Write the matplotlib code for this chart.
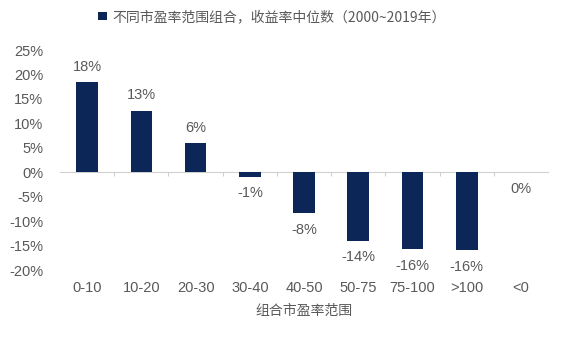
import matplotlib
matplotlib.use("Agg")
import matplotlib.pyplot as plt

categories = ["0-10", "10-20", "20-30", "30-40", "40-50", "50-75", "75-100", ">100", "<0"]
values = [18.4, 12.6, 5.9, -0.9, -8.4, -14.0, -15.8, -16.0, -0.05]
labels = ["18%", "13%", "6%", "-1%", "-8%", "-14%", "-16%", "-16%", "0%"]
yticks = [-20, -15, -10, -5, 0, 5, 10, 15, 20, 25]
legend_label = "不同市盈率范围组合，收益率中位数（2000~2019年）"
xlabel = "组合市盈率范围"

bar_color = "#0c2757"
text_color = "#595959"
latin = "Liberation Sans"
cjk = ["Noto Sans CJK SC", "DejaVu Sans"]

fig = plt.figure(figsize=(5.61, 3.39), dpi=100)
ax = fig.add_axes([0.107, 0.2035, 0.870, 0.649])

x = list(range(len(categories)))
bars = ax.bar(x, values, width=0.4, color=bar_color, label=legend_label, zorder=3)

ax.set_xlim(-0.5, len(categories) - 0.5)
ax.set_ylim(-20, 25)
ax.set_yticks(yticks)
ax.set_yticklabels([f"{t}%" for t in yticks], family=latin, fontsize=10.5, color=text_color)
ax.tick_params(axis="y", length=0, pad=12)

for s in ["top", "right", "left"]:
    ax.spines[s].set_visible(False)
ax.spines["bottom"].set_position(("data", 0))
ax.spines["bottom"].set_color("#d0d0d0")
ax.set_xticks([i + 0.5 for i in x[:-1]])
ax.set_xticklabels([])
ax.tick_params(axis="x", length=3, color="#d0d0d0", direction="out")

sec = ax.secondary_xaxis("bottom")
sec.set_xticks(x)
sec.set_xticklabels(categories, family=latin, fontsize=10.5, color=text_color)
sec.tick_params(length=0, pad=8)
sec.spines["bottom"].set_visible(False)
sec.set_xlabel(xlabel, family=cjk, fontsize=10, color=text_color, labelpad=6)

for b, v, lab in zip(bars, values, labels):
    if v > 0:
        ax.annotate(lab, (b.get_x() + b.get_width() / 2, v), xytext=(0, 6),
                    textcoords="offset points", ha="center", va="bottom",
                    family=latin, fontsize=10.5, color=text_color)
    else:
        ax.annotate(lab, (b.get_x() + b.get_width() / 2, v), xytext=(0, -7),
                    textcoords="offset points", ha="center", va="top",
                    family=latin, fontsize=10.5, color=text_color)

leg = fig.legend(loc="center", bbox_to_anchor=(0.485, 0.95), frameon=False,
                 prop={"family": cjk, "size": 10}, handlelength=0.6, handleheight=0.6,
                 handletextpad=0.4)
for t in leg.get_texts():
    t.set_color(text_color)

fig.savefig("out.png", dpi=100)
